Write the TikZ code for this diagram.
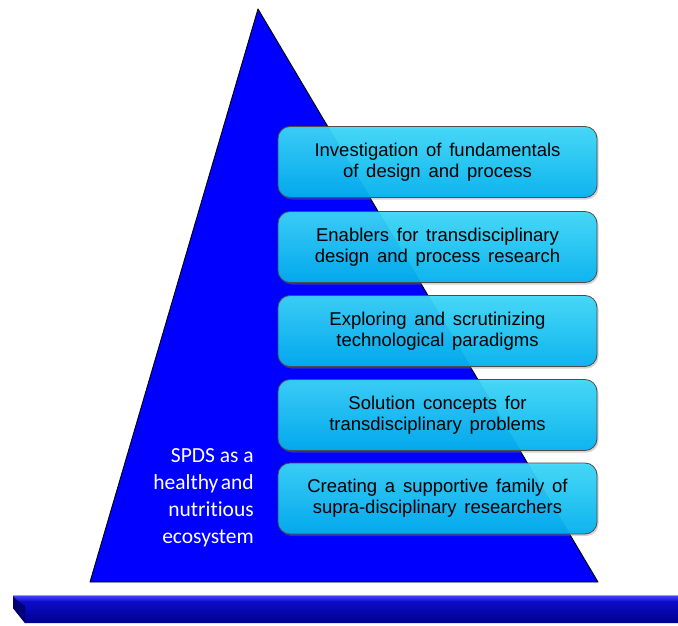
\documentclass[tikz,border=0pt]{standalone}
\usepackage{fontspec}
\setmainfont{Liberation Sans}
\newfontfamily\calibrifont[Ligatures=NoCommon]{Carlito}
\usetikzlibrary{shadows}
\definecolor{cyanTop}{HTML}{3CD8F8}
\definecolor{cyanBot}{HTML}{00B2F0}
\definecolor{pyrBlue}{HTML}{0000FF}
\definecolor{barTop}{HTML}{4A4AF0}
\definecolor{barMid}{HTML}{1010D8}
\definecolor{barBot}{HTML}{000090}
\newcommand{\stageboxfont}{\fontsize{18.5}{21}\selectfont\spaceskip=0.42em plus 0.1em minus 0.05em\relax}
\begin{document}
\begin{tikzpicture}[x=1pt,y=-1pt,
  stagebox/.style={draw=black!70, line width=0.8pt, rounded corners=12pt,
    minimum width=319pt, minimum height=71pt, inner sep=0pt,
    top color=cyanTop, bottom color=cyanBot, fill opacity=0.93, text opacity=1,
    drop shadow={shadow xshift=1.5pt, shadow yshift=-2pt, opacity=0.35},
    align=center, font=\stageboxfont},
  sidetext/.style={anchor=east, align=right, text=white, inner sep=0pt,
    font=\calibrifont\fontsize{21.5}{27}\selectfont}]
\useasboundingbox (0,0) rectangle (678,626);
% base bar
\shade[top color=barMid, bottom color=barBot] (13,595) -- (678,595) -- (678,623) -- (25,623) -- (13,608) -- cycle;
\shade[top color=barTop, bottom color=barMid] (13,595) -- (678,595) -- (678,601) -- (17,601) -- cycle;
\fill[barBot!80!black] (13,597) -- (25,606) -- (25,623) -- (13,608) -- cycle;
\draw[white!60!blue, line width=0.6pt] (13,595) -- (678,595);
% pyramid
\draw[fill=pyrBlue, draw=black, line width=0.9pt, line join=round] (258,9) -- (598,582) -- (90,582) -- cycle;
% boxes
\node[stagebox] (b1) at (437.5,162) {Investigation of fundamentals\\of design and process};
\node[stagebox] (b2) at (437.5,247) {Enablers for transdisciplinary\\design and process research};
\node[stagebox] (b3) at (437.5,331) {Exploring and scrutinizing\\technological paradigms};
\node[stagebox] (b4) at (437.5,415) {Solution concepts for\\transdisciplinary problems};
\node[stagebox] (b5) at (437.5,498.5) {Creating a supportive family of\\supra-disciplinary researchers};
% side label
\node[sidetext] (side) at (254,498) {SPDS as a\\healthy\kern2.5pt and\\nutritious\\ecosystem};
\end{tikzpicture}
\end{document}
